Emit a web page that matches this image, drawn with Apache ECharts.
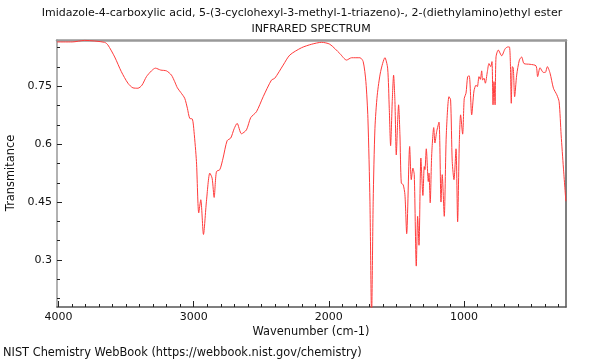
<!DOCTYPE html>
<html><head><meta charset="utf-8">
<script src="https://cdn.jsdelivr.net/npm/echarts@6/dist/echarts.min.js"></script>
<style>html,body{margin:0;padding:0;background:#fff}#c{width:600px;height:360px}</style>
</head><body><div id="c"></div>
<script>
const wavenumbers = [4012,3900,3807,3660,3635,3585,3536,3487,3450,3413,3383,3350,3313,3284,3244,3202,3165,3141,3121,3096,3067,3047,3030,3010,2998,2980,2963,2948,2928,2906,2881,2864,2849,2832,2807,2783,2753,2726,2701,2679,2647,2610,2578,2536,2486,2425,2400,2338,2289,2202,2128,2054,1993,1919,1869,1832,1770,1746,1726,1711,1696,1684,1672,1659,1642,1617,1585,1565,1553,1543,1531,1521,1511,1501,1491,1484,1474,1464,1450,1437,1424,1402,1390,1378,1368,1353,1343,1333,1319,1304,1294,1289,1279,1264,1259,1250,1239,1224,1215,1202,1185,1170,1161,1146,1131,1111,1099,1087,1074,1059,1047,1035,1025,1010,998,985,973,961,943,926,911,901,889,879,869,862,852,842,827,815,802,793,785,778,770,763,746,721,696,676,664,657,650,642,635,625,610,590,573,556,511,467,455,437,413,398,383,363,338,313,296,281,264,246];
const transmittance = [0.865,0.865,0.869,0.864,0.857,0.826,0.788,0.758,0.746,0.745,0.753,0.775,0.790,0.797,0.792,0.790,0.779,0.762,0.746,0.734,0.719,0.693,0.667,0.665,0.633,0.555,0.422,0.456,0.366,0.452,0.525,0.512,0.462,0.529,0.534,0.564,0.609,0.616,0.640,0.654,0.627,0.637,0.669,0.684,0.723,0.766,0.771,0.805,0.831,0.850,0.859,0.864,0.859,0.835,0.818,0.824,0.824,0.814,0.762,0.667,0.452,0.150,0.452,0.641,0.727,0.788,0.824,0.797,0.693,0.596,0.710,0.779,0.710,0.572,0.659,0.702,0.624,0.499,0.495,0.469,0.368,0.594,0.508,0.538,0.521,0.284,0.413,0.338,0.564,0.467,0.542,0.534,0.588,0.503,0.525,0.448,0.572,0.643,0.603,0.633,0.657,0.450,0.521,0.413,0.624,0.723,0.715,0.555,0.508,0.588,0.399,0.598,0.676,0.626,0.719,0.732,0.775,0.777,0.676,0.738,0.753,0.749,0.775,0.768,0.790,0.766,0.771,0.758,0.788,0.809,0.801,0.814,0.702,0.762,0.702,0.826,0.844,0.829,0.847,0.852,0.852,0.814,0.706,0.801,0.797,0.723,0.779,0.818,0.826,0.809,0.807,0.803,0.775,0.798,0.786,0.786,0.801,0.784,0.745,0.728,0.710,0.624,0.538,0.452];
const xMajorTicks = [1000,2000,3000,4000];
const xMinorTicks = [300,400,500,600,700,800,900,1100,1200,1300,1400,1500,1600,1700,1800,1900,2100,2200,2300,2400,2500,2600,2700,2800,2900,3100,3200,3300,3400,3500,3600,3700,3800,3900];
const yMajorTicks = [0.3,0.45,0.6,0.75];
const yMinorTicks = [0.2,0.25,0.35,0.4,0.5,0.55,0.65,0.7,0.8,0.85];
const titleLine1 = 'Imidazole-4-carboxylic acid, 5-(3-cyclohexyl-3-methyl-1-triazeno)-, 2-(diethylamino)ethyl ester';
const titleLine2 = 'INFRARED SPECTRUM';
const xName = 'Wavenumber (cm-1)';
const yName = 'Transmitance';
const footer = 'NIST Chemistry WebBook (https://webbook.nist.gov/chemistry)';

const X_MIN = 245, X_MAX = 4012, Y_MIN = 0.178, Y_MAX = 0.870;
const FONT = 'DejaVu Sans';
const chart = echarts.init(document.getElementById('c'), null, {renderer:'canvas'});
const baseX = {type:'value', inverse:true, min:X_MIN, max:X_MAX, splitLine:{show:false}, gridIndex:0};
const baseY = {type:'value', min:Y_MIN, max:Y_MAX, splitLine:{show:false}, gridIndex:0};
const txt = (t, x, y, size, align, rot) => ({type:'text', x:x, y:y, rotation:rot||0,
  style:{text:t, font:size+'px "DejaVu Sans"', fill:'#111', align:align, verticalAlign:'middle'}});
chart.setOption({
  animation:false,
  grid:{left:57, right:34, top:40, bottom:53, show:false},
  xAxis:[
    Object.assign({}, baseX, {position:'bottom', axisLine:{show:true, lineStyle:{color:'#555', width:1.5}},
      axisTick:{show:true, inside:true, length:6, customValues:xMajorTicks, lineStyle:{color:'#222'}},
      axisLabel:{show:true, customValues:xMajorTicks, formatter:v=>String(Math.round(v)), color:'#111', fontFamily:FONT, fontSize:11, margin:5}}),
    Object.assign({}, baseX, {position:'bottom', axisLine:{show:false},
      axisTick:{show:true, inside:true, length:3, customValues:xMinorTicks, lineStyle:{color:'#222'}},
      axisLabel:{show:false}}),
    Object.assign({}, baseX, {position:'top', axisLine:{show:true, lineStyle:{color:'#999', width:2.5}},
      axisTick:{show:false}, axisLabel:{show:false}})
  ],
  yAxis:[
    Object.assign({}, baseY, {position:'left', axisLine:{show:true, lineStyle:{color:'#999', width:1.5}},
      axisTick:{show:true, inside:true, length:5, customValues:yMajorTicks, lineStyle:{color:'#222'}},
      axisLabel:{show:true, customValues:yMajorTicks, color:'#111', fontFamily:FONT, fontSize:11, margin:5}}),
    Object.assign({}, baseY, {position:'left', axisLine:{show:false},
      axisTick:{show:true, inside:true, length:3, customValues:yMinorTicks, lineStyle:{color:'#222'}},
      axisLabel:{show:false}}),
    Object.assign({}, baseY, {position:'right', axisLine:{show:true, lineStyle:{color:'#555', width:1.5}},
      axisTick:{show:false}, axisLabel:{show:false}})
  ],
  series:[{
    type:'line', xAxisIndex:0, yAxisIndex:0, showSymbol:false, smooth:0.25, clip:true,
    lineStyle:{color:'#ff3b3b', width:1},
    data: wavenumbers.map((w,i)=>[w, transmittance[i]])
  }],
  graphic:[
    txt(titleLine1, 302, 13, 11, 'center'),
    txt(titleLine2, 311, 29, 11, 'center'),
    txt(xName, 311, 332, 11.4, 'center'),
    Object.assign(txt(yName, 11, 173, 11.4, 'center', Math.PI/2)),
    txt(footer, 3, 353, 11.4, 'left')
  ]
});
</script></body></html>
